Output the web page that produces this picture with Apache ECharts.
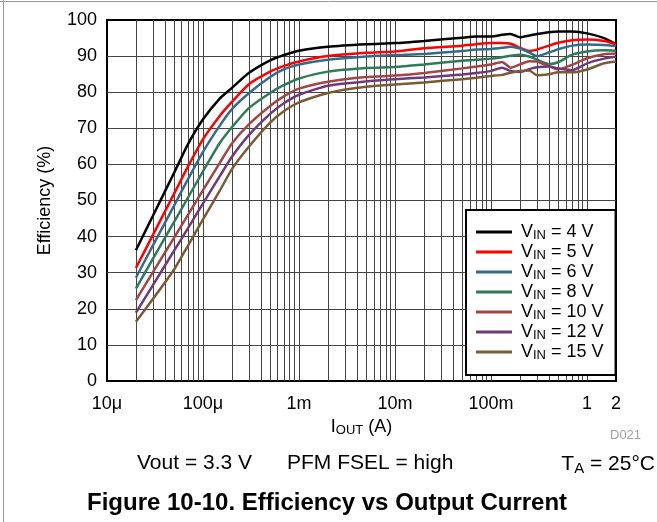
<!DOCTYPE html>
<html><head><meta charset="utf-8">
<script src="https://cdn.jsdelivr.net/npm/echarts@6/dist/echarts.min.js"></script>
<style>html,body{margin:0;padding:0;background:#fff}#c{width:657px;height:522px}</style>
</head><body><div id="c"></div>
<script>
// ---- data ----
const currents = [2e-5, 3e-5, 5e-5, 7e-5, 1e-4, 1.5e-4, 2e-4, 3e-4, 5e-4, 7e-4, 1e-3, 2e-3, 5e-3, 1e-2, 2e-2, 5e-2, 0.07, 0.1, 0.13, 0.16, 0.2, 0.25, 0.3, 0.4, 0.5, 0.7, 1, 1.5, 2];
const vinValues = [4, 5, 6, 8, 10, 12, 15];
const eff4  = [36.2, 45.7, 57.7, 65.7, 72.5, 78.3, 81.2, 85.3, 88.8, 90.3, 91.5, 92.6, 93.3, 93.6, 94.2, 95.1, 95.4, 95.4, 95.9, 96.1, 95.2, 95.7, 96.1, 96.6, 96.8, 96.8, 96.3, 95.0, 93.3];
const eff5  = [31.3, 40.4, 51.9, 59.5, 67.0, 73.5, 77.3, 82.2, 85.7, 87.3, 88.5, 90.0, 90.9, 91.3, 92.2, 92.9, 93.3, 93.6, 93.6, 93.4, 92.3, 91.4, 91.8, 92.9, 93.7, 94.4, 94.6, 94.2, 93.3];
const eff6  = [28.6, 37.5, 48.6, 56.0, 63.5, 70.8, 75.3, 79.7, 84.2, 86.4, 87.7, 89.0, 89.9, 90.3, 90.6, 91.4, 91.8, 92.0, 92.3, 92.6, 92.1, 91.0, 90.0, 91.0, 91.9, 92.9, 93.2, 93.1, 92.8];
const eff8  = [25.6, 33.8, 44.1, 50.9, 58.1, 66.0, 70.3, 75.6, 79.8, 82.0, 83.8, 85.7, 86.7, 87.0, 87.7, 88.7, 89.0, 89.3, 89.7, 90.1, 90.4, 89.9, 89.0, 87.8, 88.3, 90.4, 91.3, 91.6, 91.5];
const eff10 = [22.4, 30.1, 39.7, 46.1, 52.9, 60.5, 65.8, 71.1, 76.2, 78.9, 81.0, 82.9, 84.2, 84.6, 85.3, 86.6, 87.1, 87.7, 88.4, 86.8, 87.7, 88.6, 88.5, 87.2, 86.3, 87.6, 89.4, 90.5, 90.7];
const eff12 = [18.9, 26.5, 36.1, 42.4, 49.2, 56.8, 62.1, 68.1, 74.0, 77.0, 79.3, 81.8, 83.0, 83.6, 84.1, 84.9, 85.3, 85.9, 86.8, 85.9, 85.6, 86.4, 86.9, 87.1, 86.6, 86.1, 88.0, 89.3, 89.8];
const eff15 = [16.4, 22.7, 30.9, 37.6, 44.8, 52.8, 58.7, 64.9, 71.6, 74.8, 77.2, 79.8, 81.5, 82.1, 82.7, 83.6, 84.0, 84.5, 84.8, 85.4, 85.9, 86.0, 84.7, 85.0, 85.5, 85.5, 86.3, 88.0, 88.5];
const tickValues = [1e-5, 1e-4, 1e-3, 1e-2, 1e-1, 1, 2];
const tickLabels = ['10μ', '100μ', '1m', '10m', '100m', '1', '2'];
const minorGridCurrents = [];
[1e-5, 1e-4, 1e-3, 1e-2, 1e-1].forEach(d => { for (let k = 2; k <= 9; k++) minorGridCurrents.push(k * d); });

// ---- styles ----
const colors = ['#000000', '#ff0000', '#336b8a', '#2f7a57', '#a34545', '#6f3a78', '#7b5b33'];
const FONT = 'Liberation Sans, Arial, sans-serif';
const GRID_COLOR = '#444444';

const effData = [eff4, eff5, eff6, eff8, eff10, eff12, eff15];
const series = vinValues.map((v, i) => ({
  name: 'VIN = ' + v + ' V',
  type: 'line',
  data: currents.map((c, j) => [c, effData[i][j]]),
  showSymbol: false, symbol: 'none', smooth: 0.2, z: 10,
  lineStyle: { color: colors[i], width: 2.5 },
  itemStyle: { color: colors[i] },
  emphasis: { disabled: true },
  animation: false
}));
series[0].markLine = {
  silent: true, symbol: ['none', 'none'], animation: false, z: 5, precision: 12,
  label: { show: false },
  lineStyle: { color: GRID_COLOR, width: 1, type: 'solid' },
  emphasis: { disabled: true },
  data: minorGridCurrents.map(c => ({ xAxis: c }))
};

function xLabel(v) {
  let best = 0, bd = 1e9;
  tickValues.forEach((t, i) => { const d = Math.abs(Math.log10(v) - Math.log10(t)); if (d < bd) { bd = d; best = i; } });
  return bd < 0.05 ? tickLabels[best] : '';
}

const chart = echarts.init(document.getElementById('c'), null, { renderer: 'canvas' });
chart.setOption({
  animation: false,
  backgroundColor: '#fff',
  textStyle: { fontFamily: FONT },
  grid: { left: 107, right: 41, top: 20, bottom: 141, show: true, borderColor: '#000', borderWidth: 2, backgroundColor: '#fff', containLabel: false, outerBoundsMode: 'none' },
  xAxis: {
    type: 'log', logBase: 10, min: 1e-5, max: 2,
    axisLine: { show: false }, axisTick: { show: false },
    splitLine: { show: true, showMinLine: false, showMaxLine: false, lineStyle: { color: GRID_COLOR, width: 1 } },
    minorTick: { show: false }, minorSplitLine: { show: false },
    axisLabel: { formatter: xLabel, fontSize: 18, color: '#000', margin: 14, fontFamily: FONT, showMinLabel: true, showMaxLabel: true, hideOverlap: false },
    name: '{a|I}{b|OUT}{a| (A)}', nameLocation: 'middle', nameGap: 34,
    nameTextStyle: { rich: {
      a: { fontSize: 18, fontFamily: FONT, color: '#000', lineHeight: 20 },
      b: { fontSize: 13, fontFamily: FONT, color: '#000', lineHeight: 10, verticalAlign: 'bottom' }
    } }
  },
  yAxis: {
    type: 'value', min: 0, max: 100, interval: 10,
    axisLine: { show: false }, axisTick: { show: false },
    splitLine: { show: true, showMinLine: false, showMaxLine: false, lineStyle: { color: GRID_COLOR, width: 1 } },
    axisLabel: { fontSize: 18, color: '#000', margin: 10, fontFamily: FONT },
    name: 'Efficiency (%)', nameLocation: 'middle', nameGap: 53,
    nameTextStyle: { fontSize: 18, color: '#000', fontFamily: FONT }
  },
  legend: {
    show: true, orient: 'vertical', left: 466, top: 210,
    itemWidth: 36, itemHeight: 3, itemGap: 1, icon: 'rect',
    padding: [13, 12, 13, 10], backgroundColor: '#fff', borderColor: '#000', borderWidth: 2,
    z: 20, selectedMode: false,
    data: series.map(s => s.name),
    formatter: name => { const n = name.match(/= (\d+)/)[1]; return '{v|V}{s|IN}{v| = ' + n + ' V}'; },
    textStyle: { padding: [0, 0, 0, 4], rich: {
      v: { fontSize: 18, fontFamily: FONT, color: '#000', lineHeight: 20 },
      s: { fontSize: 13, fontFamily: FONT, color: '#000', lineHeight: 10, verticalAlign: 'bottom' }
    } }
  },
  title: [
    { text: 'Figure 10-10. Efficiency vs Output Current', left: 87, top: 491, padding: 0,
      textStyle: { fontSize: 24, fontWeight: 'bold', fontFamily: FONT, color: '#000' } },
    { text: 'Vout = 3.3 V', left: 137, top: 453, padding: 0,
      textStyle: { fontSize: 21, fontWeight: 'normal', fontFamily: FONT, color: '#000' } },
    { text: 'PFM FSEL = high', left: 287, top: 453, padding: 0,
      textStyle: { fontSize: 21, fontWeight: 'normal', fontFamily: FONT, color: '#000' } },
    { text: '{t|T}{s|A}{t| = 25°C}', right: 2, top: 452, padding: 0,
      textStyle: { fontWeight: 'normal', rich: {
        t: { fontSize: 21, fontWeight: 'normal', fontFamily: FONT, color: '#000', lineHeight: 24 },
        s: { fontSize: 15, fontWeight: 'normal', fontFamily: FONT, color: '#000', lineHeight: 12, verticalAlign: 'bottom' }
      } } },
    { text: 'D021', left: 610, top: 429, padding: 0,
      textStyle: { fontSize: 13, fontWeight: 'normal', fontFamily: FONT, color: '#a0a0a0' } }
  ],
  graphic: [
    { type: 'line', silent: true, shape: { x1: 3.5, y1: 0, x2: 3.5, y2: 522 }, style: { stroke: '#999', lineWidth: 1 } },
    { type: 'line', silent: true, shape: { x1: 0, y1: 1.5, x2: 657, y2: 1.5 }, style: { stroke: '#999', lineWidth: 1 } }
  ],
  series: series
});
</script></body></html>
